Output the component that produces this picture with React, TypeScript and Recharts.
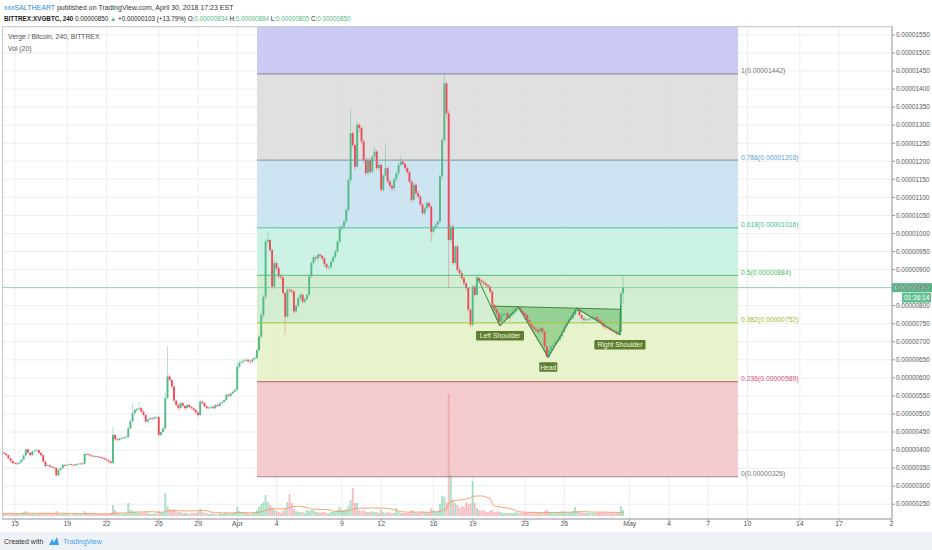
import React from "react";
import {
  ComposedChart,
  Bar,
  Line,
  Area,
  XAxis,
  YAxis,
  CartesianGrid,
  ReferenceArea,
  ReferenceLine,
  ReferenceDot,
} from "recharts";

const FONT = "'Liberation Sans', Arial, sans-serif";
const UP = "#53b987";
const DOWN = "#eb4d5c";

// 4h candles, prices in satoshi (1e-8 BTC). First bar: Mar 14 00:00 (day -1 from Mar 15)
const opens = [
  395, 393, 390, 386, 377, 370, 364, 363, 362, 366, 373, 385,
  402, 393, 386, 396, 398, 400, 392, 386, 368, 356, 358, 354,
  352, 350, 330, 345, 350, 359, 357, 359, 361, 359, 358, 361,
  362, 363, 362, 389, 388, 386, 384, 382, 383, 381, 380, 378,
  375, 372, 368, 364, 442, 430, 428, 432, 433, 435, 436, 460,
  480, 502, 511, 514, 516, 506, 497, 479, 485, 488, 486, 490,
  491, 442, 450, 460, 544, 604, 594, 576, 537, 525, 516, 530,
  522, 516, 525, 519, 516, 511, 504, 497, 534, 530, 521, 516,
  518, 520, 516, 525, 522, 530, 533, 539, 553, 550, 557, 562,
  567, 631, 642, 645, 648, 650, 646, 645, 652, 655, 677, 714,
  774, 825, 977, 982, 954, 853, 918, 904, 881, 878, 835, 770,
  844, 842, 839, 784, 800, 821, 830, 811, 818, 830, 881, 918,
  934, 931, 941, 938, 931, 915, 906, 907, 922, 935, 950, 977,
  1015, 1020, 1033, 1065, 1148, 1278, 1245, 1185, 1301, 1292, 1255, 1204,
  1167, 1204, 1171, 1213, 1227, 1181, 1190, 1121, 1160, 1181, 1144, 1132,
  1125, 1150, 1167, 1190, 1199, 1193, 1181, 1170, 1144, 1093, 1135, 1112,
  1102, 1080, 1056, 1070, 1084, 1075, 1005, 1015, 1024, 1033, 1158, 1259,
  1416, 1333, 982, 1019, 918, 964, 899, 890, 876, 862, 849, 789,
  747, 853, 830, 876, 870, 866, 862, 857, 853, 839, 802, 790,
  779, 756, 774, 776, 779, 765, 772, 778, 784, 790, 793, 784,
  779, 774, 761, 750, 742, 736, 733, 728, 738, 728, 687, 659,
  677, 687, 691, 700, 705, 715, 728, 742, 752, 761, 765, 775,
  784, 790, 774, 765, 761, 762, 763, 765, 768, 768, 761, 758,
  751, 742, 740, 738, 733, 730, 728, 724, 727, 834,
];
const highs = [
  397, 395, 392, 388, 379, 372, 367, 366, 368, 376, 388, 405,
  404, 396, 398, 401, 403, 402, 394, 388, 370, 361, 360, 356,
  354, 352, 347, 352, 362, 361, 361, 363, 363, 361, 363, 364,
  365, 365, 395, 392, 390, 388, 386, 385, 385, 383, 382, 380,
  377, 374, 370, 465, 444, 434, 436, 436, 438, 440, 465, 486,
  530, 515, 518, 534, 520, 510, 500, 488, 492, 492, 494, 495,
  494, 455, 465, 560, 687, 610, 598, 580, 540, 530, 534, 533,
  525, 528, 528, 523, 519, 514, 507, 540, 538, 533, 524, 521,
  523, 524, 528, 528, 533, 537, 542, 557, 557, 560, 566, 571,
  640, 648, 650, 654, 656, 654, 650, 656, 660, 681, 720, 786,
  830, 985, 1005, 985, 958, 925, 922, 908, 888, 882, 838, 850,
  850, 846, 842, 804, 825, 835, 834, 822, 834, 886, 925, 940,
  938, 946, 945, 941, 934, 918, 912, 926, 940, 955, 982, 1020,
  1025, 1040, 1070, 1155, 1347, 1285, 1250, 1310, 1305, 1296, 1260, 1210,
  1212, 1210, 1218, 1240, 1230, 1198, 1195, 1165, 1251, 1185, 1150, 1140,
  1155, 1172, 1195, 1215, 1205, 1197, 1186, 1175, 1148, 1140, 1138, 1118,
  1106, 1084, 1075, 1090, 1088, 1078, 1020, 1028, 1036, 1165, 1265, 1442,
  1420, 1340, 1030, 1025, 968, 970, 905, 895, 880, 866, 852, 792,
  858, 858, 884, 880, 874, 870, 866, 861, 856, 843, 806, 794,
  782, 778, 779, 782, 782, 776, 782, 787, 793, 798, 796, 787,
  782, 778, 764, 753, 745, 739, 736, 742, 740, 731, 690, 680,
  690, 694, 704, 708, 719, 732, 746, 756, 765, 770, 779, 788,
  797, 792, 776, 768, 765, 766, 768, 771, 772, 770, 764, 760,
  754, 746, 743, 741, 736, 733, 731, 730, 840, 884,
];
const lows = [
  391, 388, 384, 374, 366, 361, 360, 359, 360, 364, 371, 383,
  390, 383, 384, 394, 396, 389, 383, 365, 352, 354, 351, 349,
  346, 325, 328, 342, 348, 354, 355, 357, 357, 355, 356, 359,
  359, 359, 360, 385, 383, 381, 379, 380, 378, 377, 375, 372,
  369, 365, 360, 361, 426, 424, 425, 429, 430, 432, 434, 456,
  476, 498, 507, 510, 503, 492, 474, 476, 482, 482, 484, 487,
  438, 438, 447, 456, 540, 588, 570, 532, 520, 510, 512, 518,
  511, 512, 515, 512, 506, 499, 492, 494, 526, 518, 512, 513,
  514, 512, 513, 519, 519, 527, 530, 535, 546, 547, 554, 559,
  563, 625, 638, 641, 644, 640, 638, 641, 648, 651, 672, 708,
  765, 818, 970, 950, 845, 848, 898, 876, 872, 830, 720, 765,
  836, 832, 778, 778, 795, 815, 805, 806, 815, 825, 875, 912,
  925, 926, 932, 924, 908, 900, 900, 902, 918, 930, 945, 972,
  1008, 1012, 1025, 1058, 1140, 1238, 1175, 1180, 1280, 1248, 1195, 1160,
  1160, 1165, 1165, 1205, 1175, 1175, 1115, 1115, 1155, 1138, 1125, 1118,
  1118, 1145, 1160, 1185, 1186, 1175, 1162, 1138, 1085, 1088, 1105, 1095,
  1075, 1050, 1050, 1064, 1070, 977, 998, 1010, 1018, 1028, 1150, 1250,
  1325, 850, 975, 912, 912, 893, 884, 870, 856, 842, 782, 740,
  742, 825, 826, 864, 860, 856, 850, 847, 834, 796, 785, 774,
  744, 752, 768, 770, 760, 762, 767, 774, 780, 786, 780, 773,
  768, 756, 744, 738, 730, 728, 722, 724, 722, 682, 655, 655,
  672, 682, 687, 696, 701, 711, 724, 738, 748, 756, 760, 770,
  780, 770, 760, 756, 756, 758, 759, 761, 763, 756, 754, 746,
  737, 735, 733, 729, 725, 723, 718, 720, 722, 805,
];
const closes = [
  393, 390, 386, 377, 370, 364, 363, 362, 366, 373, 385, 402,
  393, 386, 396, 398, 400, 392, 386, 368, 356, 358, 354, 352,
  350, 330, 345, 350, 359, 357, 359, 361, 359, 358, 361, 362,
  363, 362, 389, 388, 386, 384, 382, 383, 381, 380, 378, 375,
  372, 368, 364, 442, 430, 428, 432, 433, 435, 436, 460, 480,
  502, 511, 514, 516, 506, 497, 479, 485, 488, 486, 490, 491,
  442, 450, 460, 544, 604, 594, 576, 537, 525, 516, 530, 522,
  516, 525, 519, 516, 511, 504, 497, 534, 530, 521, 516, 518,
  520, 516, 525, 522, 530, 533, 539, 553, 550, 557, 562, 567,
  631, 642, 645, 648, 650, 646, 645, 652, 655, 677, 714, 774,
  825, 977, 982, 954, 853, 918, 904, 881, 878, 835, 770, 844,
  842, 839, 784, 800, 821, 830, 811, 818, 830, 881, 918, 934,
  931, 941, 938, 931, 915, 906, 907, 922, 935, 950, 977, 1015,
  1020, 1033, 1065, 1148, 1278, 1245, 1185, 1301, 1292, 1255, 1204, 1167,
  1204, 1171, 1213, 1227, 1181, 1190, 1121, 1160, 1181, 1144, 1132, 1125,
  1150, 1167, 1190, 1199, 1193, 1181, 1170, 1144, 1093, 1135, 1112, 1102,
  1080, 1056, 1070, 1084, 1075, 1005, 1015, 1024, 1033, 1158, 1259, 1416,
  1333, 982, 1019, 918, 964, 899, 890, 876, 862, 849, 789, 747,
  853, 830, 876, 870, 866, 862, 857, 853, 839, 802, 790, 779,
  756, 774, 776, 779, 765, 772, 778, 784, 790, 793, 784, 779,
  774, 761, 750, 742, 736, 733, 728, 738, 728, 687, 659, 677,
  687, 691, 700, 705, 715, 728, 742, 752, 761, 765, 775, 784,
  790, 774, 765, 761, 762, 763, 765, 768, 768, 761, 758, 751,
  742, 740, 738, 733, 730, 728, 724, 727, 834, 850,
];
// volume, relative units
const volumes = [
  3, 2, 2, 3, 2, 2, 2, 2, 3, 3, 4, 5,
  3, 2, 3, 2, 2, 3, 2, 3, 3, 2, 2, 2,
  2, 5, 3, 2, 2, 2, 2, 2, 1, 2, 2, 2,
  2, 2, 5, 3, 2, 2, 2, 2, 2, 2, 2, 2,
  2, 2, 3, 11, 6, 3, 3, 2, 2, 3, 13, 6,
  5, 4, 3, 3, 4, 3, 4, 3, 2, 2, 3, 2,
  5, 3, 4, 23, 10, 7, 6, 7, 5, 4, 4, 3,
  3, 3, 2, 3, 3, 3, 4, 7, 4, 3, 3, 2,
  2, 3, 2, 2, 3, 2, 3, 4, 2, 3, 3, 4,
  9, 5, 4, 3, 3, 3, 2, 3, 3, 6, 9, 12,
  14, 21, 14, 11, 9, 7, 5, 4, 3, 5, 8, 14,
  22, 13, 7, 5, 4, 4, 4, 3, 6, 5, 6, 6,
  4, 4, 3, 4, 4, 3, 3, 4, 4, 5, 6, 9,
  6, 6, 7, 10, 16, 28, 13, 13, 6, 5, 6, 4,
  4, 4, 5, 4, 4, 3, 6, 4, 3, 4, 3, 3,
  3, 8, 4, 3, 3, 3, 3, 4, 6, 4, 3, 3,
  3, 5, 3, 3, 4, 8, 6, 4, 5, 12, 20, 19,
  14, 122, 41, 16, 13, 11, 8, 10, 9, 14, 12, 13,
  35, 13, 8, 6, 5, 6, 4, 4, 5, 6, 4, 4,
  5, 4, 3, 3, 3, 3, 3, 3, 4, 3, 3, 3,
  3, 3, 4, 4, 3, 3, 3, 4, 3, 5, 6, 4,
  4, 3, 3, 4, 4, 5, 4, 4, 3, 4, 5, 9,
  5, 4, 3, 3, 3, 3, 3, 3, 3, 3, 4, 3,
  4, 3, 3, 3, 4, 3, 3, 3, 10, 6,
];

const firstDay = -1;
const barsPerDay = 6;
const volPeriod = 20;

// time axis in days from Mar 15
const viewDays = [-0.92, 67.05];
const dayTicks = [0, 4, 7, 11, 14, 17, 20, 25, 28, 32, 35, 39, 42, 47, 50, 53, 56, 60, 63, 67];
const dayLabels = ["15", "19", "22", "26", "29", "Apr", "4", "9", "12", "16", "19", "23", "26", "May", "4", "7", "10", "14", "17", "2"];

const viewPrice = [209, 1572];
const priceTicks = [
  250, 300, 350, 400, 450, 500, 550, 600, 650, 700, 750, 800, 850, 900,
  950, 1000, 1050, 1100, 1150, 1200, 1250, 1300, 1350, 1400, 1450, 1500, 1550,
];
const volView = [-3, 489];

// fibonacci retracement
const fibLow = 326;
const fibHigh = 1442;
const fibStart = 18.5;
const fibEnd = 55.28;
const fibRatios = [1.272, 1, 0.786, 0.618, 0.5, 0.382, 0.236, 0];
const fibFills = ["#c4c3f2", "#dcdcdc", "#c6e0ef", "#c5efe1", "#cdebc9", "#e4f1c6", "#f2c4c7"];
const fibLineColors = ["#8a8ca8", "#80829a", "#7f93a5", "#4dc2a1", "#5bbf6d", "#a9c13f", "#c05a5a", "#a88088"];
const fibTextColors = ["#787878", "#787878", "#5b9fd3", "#3dbd94", "#4dbb62", "#a5b52f", "#e0507a", "#787878"];

// inverse head & shoulders drawing (days, price)
const hsTimes = [35.34, 37.08, 38.48, 40.77, 42.94, 46.25, 46.3];
const hsPrices = [879, 744, 797, 657, 793, 719, 800];
const hsNames = ["", "Left Shoulder", "", "Head", "", "Right Shoulder", ""];

const lastPrice = 850;
const countdown = "01:36:14";

const fmt = (v: number) => (v / 1e8).toFixed(8);
const level = (r: number) => fibLow + r * (fibHigh - fibLow);

const rows = closes.map((c, i) => {
  const win = volumes.slice(Math.max(0, i - volPeriod + 1), i + 1);
  return {
    t: firstDay + i / barsPerDay,
    o: opens[i],
    h: highs[i],
    l: lows[i],
    c,
    v: volumes[i],
    ma: win.reduce((a, b) => a + b, 0) / win.length,
  };
});

const neckK = (hsPrices[4] - hsPrices[2]) / (hsTimes[4] - hsTimes[2]);
const neckAt = (t: number) => hsPrices[2] + neckK * (t - hsTimes[2]);
const crossNeck = (a: number, b: number) => {
  const dt = hsTimes[b] - hsTimes[a];
  const dp = hsPrices[b] - hsPrices[a];
  const s = (neckAt(hsTimes[a]) - hsPrices[a]) / (dp - neckK * dt);
  return hsTimes[a] + s * dt;
};
const leftT = crossNeck(0, 1);
const rightT = crossNeck(5, 6);
const fillTimes = [leftT, ...hsTimes.slice(1, 6), rightT];
const fillPrices = [neckAt(leftT), ...hsPrices.slice(1, 6), neckAt(rightT)];
const hsFill = fillTimes.map((t, i) => ({ t, p: fillPrices[i], n: neckAt(t) }));
const hsLine = hsTimes.map((t, i) => ({ t, p: hsPrices[i] }));

function Candle(props: any) {
  const { x, y, width, height, payload } = props;
  if (x == null || y == null) return null;
  const { o, h, l, c } = payload;
  const span = h - l;
  const py = (v: number) => (span > 0 ? y + ((h - v) / span) * height : y);
  const color = c >= o ? UP : DOWN;
  const cx = x + width / 2;
  const top = py(Math.max(o, c));
  const bot = py(Math.min(o, c));
  return (
    <g>
      <line x1={cx} x2={cx} y1={y} y2={y + height} stroke={color} strokeOpacity={0.5} strokeWidth={0.8} />
      <rect x={x} y={top} width={width} height={Math.max(bot - top, 0.8)} fill={color} />
    </g>
  );
}

function VolBar(props: any) {
  const { x, y, width, height, payload } = props;
  if (x == null || !(height > 0)) return null;
  const up = payload.c >= payload.o;
  return (
    <rect
      x={x}
      y={y}
      width={width}
      height={height}
      fill={up ? "#7fcfa8" : "#f39aa4"}
      fillOpacity={0.65}
    />
  );
}

function HsLabel({ cx, cy, text }: any) {
  const w = text.length * 3.3 + 5;
  return (
    <g>
      <rect x={cx - w / 2} y={cy + 5} width={w} height={9.5} rx={1} fill="#5f7d2e" />
      <text x={cx} y={cy + 12.3} textAnchor="middle" fontSize={6.8} fill="#f0f6e4" fontFamily={FONT}>
        {text}
      </text>
    </g>
  );
}

function PriceTag(props: any) {
  const vb = props.viewBox || {};
  const right = (vb.x ?? 3) + (vb.width ?? 889);
  const y = vb.y ?? 288;
  return (
    <g>
      <rect x={right} y={y - 4.5} width={40} height={9} fill={UP} />
      <text x={right + 3} y={y + 2.3} fontSize={6.5} fill="#fff" fontFamily={FONT}>
        {fmt(lastPrice)}
      </text>
      <rect x={right + 10} y={y + 5} width={29} height={10} fill={UP} fillOpacity={0.9} />
      <text x={right + 12} y={y + 12.3} fontSize={6.5} fill="#fff" fontFamily={FONT}>
        {countdown}
      </text>
    </g>
  );
}

function fibLabel(i: number) {
  return (props: any) => {
    const vb = props.viewBox || {};
    return (
      <text
        x={(vb.x ?? 0) + (vb.width ?? 0) + 3}
        y={(vb.y ?? 0) - 0.5}
        fontSize={6.8}
        fill={fibTextColors[i]}
        fontFamily={FONT}
      >
        {`${fibRatios[i]}(${fmt(level(fibRatios[i]))})`}
      </text>
    );
  };
}

export default function App() {
  const textCol = "#333";
  return (
    <div
      style={{
        position: "absolute",
        left: 0,
        top: 0,
        width: 932,
        height: 550,
        background: "#fff",
        overflow: "hidden",
        fontFamily: FONT,
      }}
    >
      <ComposedChart
        width={932}
        height={550}
        data={rows}
        margin={{ top: 27, right: 0, bottom: 19, left: 3 }}
      >
        <XAxis
          xAxisId="t"
          dataKey="t"
          type="number"
          domain={viewDays}
          allowDataOverflow
          ticks={dayTicks}
          interval={0}
          tickFormatter={(v) => dayLabels[dayTicks.indexOf(v)] ?? ""}
          height={12}
          tickSize={2}
          tickMargin={0}
          tick={{ fontSize: 7, fill: "#555", fontFamily: FONT }}
          axisLine={{ stroke: "#9a9a9a" }}
          tickLine={{ stroke: "#9a9a9a" }}
        />
        <XAxis xAxisId="v" dataKey="t" type="number" domain={viewDays} allowDataOverflow hide orientation="top" height={0} />
        <XAxis xAxisId="w" dataKey="t" type="number" domain={viewDays} allowDataOverflow hide orientation="top" height={0} />
        <YAxis
          yAxisId="p"
          orientation="right"
          type="number"
          domain={viewPrice}
          allowDataOverflow
          ticks={priceTicks}
          interval={0}
          width={40}
          tickFormatter={fmt}
          tickSize={3}
          tickMargin={1}
          tick={{ fontSize: 6.4, fill: "#555", fontFamily: FONT }}
          axisLine={{ stroke: "#9a9a9a" }}
          tickLine={{ stroke: "#9a9a9a" }}
        />
        <YAxis yAxisId="v" type="number" domain={volView} allowDataOverflow hide width={0} />
        <CartesianGrid xAxisId="t" yAxisId="p" stroke="#eceef2" />

        {fibFills.map((fill, i) => (
          <ReferenceArea
            key={`fa${i}`}
            xAxisId="t"
            yAxisId="p"
            x1={fibStart}
            x2={fibEnd}
            y1={level(fibRatios[i])}
            y2={level(fibRatios[i + 1])}
            fill={fill}
            fillOpacity={0.88}
            stroke="none"
            ifOverflow="hidden"
          />
        ))}
        {fibRatios.map((r, i) =>
          i === 0 ? null : (
            <ReferenceLine
              key={`fl${i}`}
              xAxisId="t"
              yAxisId="p"
              segment={[
                { x: fibStart, y: level(r) },
                { x: fibEnd, y: level(r) },
              ]}
              stroke={fibLineColors[i]}
              strokeWidth={1}
              label={fibLabel(i)}
            />
          )
        )}

        <Bar
          xAxisId="v"
          yAxisId="v"
          dataKey="v"
          barSize={1.9}
          shape={VolBar}
          isAnimationActive={false}
        />
        <Line
          xAxisId="v"
          yAxisId="v"
          dataKey="ma"
          stroke="#f4a36c"
          strokeWidth={1}
          dot={false}
          activeDot={false}
          isAnimationActive={false}
        />
        <Bar
          xAxisId="t"
          yAxisId="p"
          dataKey={(r: any) => [r.l, r.h]}
          barSize={1.9}
          shape={Candle}
          isAnimationActive={false}
        />

        <Area
          xAxisId="w"
          yAxisId="p"
          data={hsFill}
          dataKey={(r: any) => [r.p, r.n]}
          type="linear"
          fill="#4caf50"
          fillOpacity={0.45}
          stroke="#3d8b40"
          strokeWidth={1}
          dot={false}
          activeDot={false}
          isAnimationActive={false}
        />
        <Line
          xAxisId="w"
          yAxisId="p"
          data={hsLine}
          dataKey="p"
          type="linear"
          stroke="#3d8b40"
          strokeWidth={1}
          dot={false}
          activeDot={false}
          isAnimationActive={false}
        />
        {hsNames.map((name, i) =>
          name ? (
            <ReferenceDot
              key={`hs${i}`}
              xAxisId="w"
              yAxisId="p"
              x={hsTimes[i]}
              y={hsPrices[i]}
              r={0}
              ifOverflow="visible"
              shape={(p: any) => <HsLabel cx={p.cx} cy={p.cy} text={name} />}
            />
          ) : null
        )}

        <ReferenceLine
          xAxisId="t"
          yAxisId="p"
          y={lastPrice}
          stroke={UP}
          strokeOpacity={0.55}
          label={PriceTag}
        />
      </ComposedChart>

      {/* pane border */}
      <div
        style={{
          position: "absolute",
          left: 2,
          top: 26,
          width: 890,
          height: 493,
          borderLeft: "1px solid #c9ccd2",
          borderTop: "1px solid #c9ccd2",
          pointerEvents: "none",
        }}
      />

      {/* header */}
      <div style={{ position: "absolute", left: 4, top: 4, fontSize: 7, color: textCol, whiteSpace: "nowrap" }}>
        <span style={{ color: "#2e8ad8" }}>xxxSALTHEART</span> published on TradingView.com, April 30, 2018 17:23 EST
      </div>
      <div style={{ position: "absolute", left: 4, top: 15, fontSize: 6.3, color: "#222", whiteSpace: "nowrap" }}>
        <b>BITTREX:XVGBTC, 240</b> 0.00000850 <span style={{ color: UP }}>▲</span> +0.00000103 (+13.79%){" "}
        O:<span style={{ color: UP }}>0.00000834</span> H:<span style={{ color: UP }}>0.00000884</span>{" "}
        L:<span style={{ color: UP }}>0.00000805</span> C:<span style={{ color: UP }}>0.00000850</span>
      </div>

      {/* pane legend */}
      <div style={{ position: "absolute", left: 8, top: 33, fontSize: 6.8, color: "#555", whiteSpace: "nowrap" }}>
        Verge / Bitcoin, 240, BITTREX
      </div>
      <div style={{ position: "absolute", left: 8, top: 45, fontSize: 6.8, color: "#555", whiteSpace: "nowrap" }}>
        Vol (20)
      </div>

      {/* footer */}
      <div
        style={{
          position: "absolute",
          left: 0,
          top: 532,
          width: 932,
          height: 18,
          background: "#eef1f6",
          display: "flex",
          alignItems: "center",
          fontSize: 7,
          color: textCol,
          whiteSpace: "nowrap",
        }}
      >
        <span style={{ marginLeft: 4 }}>Created with</span>
        <svg width={12} height={10} style={{ marginLeft: 5 }}>
          <path d="M1 9 L4 3 L6 6 L9 1 L11 9 Z" fill="#3ba3e8" />
        </svg>
        <span style={{ marginLeft: 3, color: "#3ba3e8" }}>TradingView</span>
      </div>
    </div>
  );
}
